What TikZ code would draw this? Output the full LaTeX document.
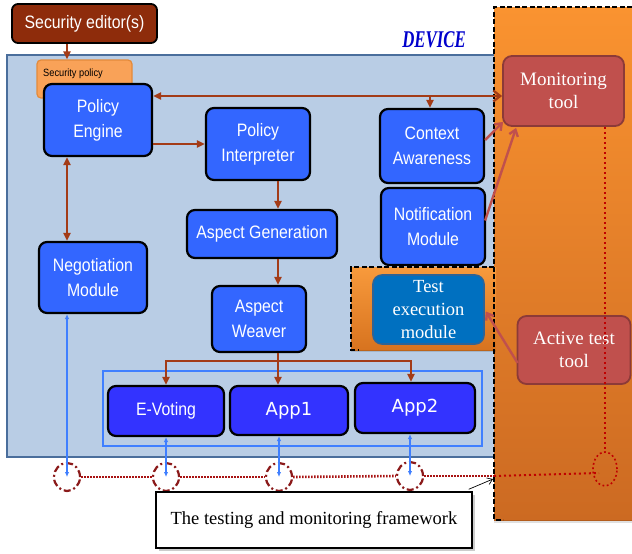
\documentclass[tikz,border=0pt]{standalone}
\usepackage{fontspec}
\usepackage{graphicx}
\setmainfont{Liberation Serif}
\newfontfamily\nsans[FakeStretch=0.88]{Liberation Sans}
\newfontfamily\vsans{DejaVu Sans}
\usetikzlibrary{arrows.meta,calc,shapes.geometric}
\definecolor{devfill}{HTML}{B9CDE5}
\definecolor{devline}{HTML}{4A6E9C}
\definecolor{boxblue}{HTML}{3366FF}
\definecolor{appblue}{HTML}{3333FF}
\definecolor{brownarr}{HTML}{A33B17}
\definecolor{edfill}{HTML}{8E2C0B}
\definecolor{polfill}{HTML}{F9A258}
\definecolor{polline}{HTML}{E48A3A}
\definecolor{orTop}{HTML}{FA9330}
\definecolor{orBot}{HTML}{CC6A22}
\definecolor{taTop}{HTML}{F89A3C}
\definecolor{taBot}{HTML}{D7731F}
\definecolor{texfill}{HTML}{0070C0}
\definecolor{texline}{HTML}{2E6496}
\definecolor{toolfill}{HTML}{C0504D}
\definecolor{toolline}{HTML}{8C3A38}
\definecolor{bluearr}{HTML}{3F7FFF}
\definecolor{ellred}{HTML}{8B1A1A}
\definecolor{dotred}{HTML}{A81212}
\definecolor{dotred2}{HTML}{C00000}
\definecolor{devtext}{HTML}{0000CC}
\begin{document}
\begin{tikzpicture}[x=1pt,y=-1pt,
  mod/.style={draw=black,line width=2.2pt,fill=boxblue,rounded corners=8pt,text=white,
    align=center,font=\nsans\fontsize{18}{25}\selectfont,inner sep=0pt},
  appmod/.style={mod,fill=appblue},
  tool/.style={draw=toolline,line width=1.8pt,fill=toolfill,rounded corners=9pt,text=white,
    align=center,font=\fontsize{19}{23}\selectfont,inner sep=0pt},
  brarr/.style={draw=brownarr,line width=2.2pt,-{Triangle[length=8pt,width=7pt]}},
  rdarr/.style={draw=toolfill,line width=2.4pt,-{Straight Barb[length=6pt,width=9pt]}},
  blarr/.style={draw=bluearr,line width=1.3pt,{Latex[length=5pt,width=4.5pt]}-{Latex[length=5pt,width=4.5pt]}},
  ell/.style={ellipse,draw=ellred,line width=2.2pt,dash pattern=on 7pt off 3pt on 2pt off 3pt,
    minimum width=26pt,minimum height=28pt,inner sep=0pt},
  dotw/.style={draw=dotred,line width=2.6pt,dash pattern=on 1.6pt off 1.4pt},
  doto/.style={draw=dotred2,line width=2pt,dash pattern=on 2pt off 3pt},
  frame/.style={draw=black,line width=1.6pt,dash pattern=on 5pt off 2.5pt}
]
\useasboundingbox (0,0) rectangle (632,554);
% device area
\fill[devfill] (7,55) rectangle (497,457);
\draw[devline,line width=1.6pt] (497,55) -- (7,55) -- (7,457) -- (497,457);
\node (devlbl) at (434,40) {\scalebox{0.7}[1]{\fontsize{24}{24}\selectfont\bfseries\itshape\color{devtext}DEVICE}};
% security editor and policy
\node (seced) [draw=black,line width=1.8pt,fill=edfill,rounded corners=6pt,minimum width=145pt,minimum height=39pt,
  text=white,font=\nsans\fontsize{18}{20}\selectfont,inner sep=0pt] at (84.5,23.5) {Security editor(s)};
\node (secpol) [draw=polline,line width=1.2pt,fill=polfill,rounded corners=4pt,minimum width=95pt,minimum height=38pt,inner sep=0pt] at (84.5,79) {};
\node (secpoltxt) [anchor=west,inner sep=0pt,font=\nsans\fontsize{10.5}{12}\selectfont] at (43,74) {Security policy};
% modules
\node (pe) [mod,minimum width=108pt,minimum height=72pt] at (98,120) {Policy\\Engine};
\node (pi) [mod,minimum width=104pt,minimum height=72pt] at (258,144) {Policy\\Interpreter};
\node (ag) [mod,minimum width=150pt,minimum height=48pt] at (262,234) {Aspect Generation};
\node (aw) [mod,minimum width=94pt,minimum height=66pt] at (259,319) {Aspect\\Weaver};
\node (neg) [mod,minimum width=108pt,minimum height=71pt] at (93,277.5) {Negotiation\\Module};
\node (ctx) [mod,minimum width=104pt,minimum height=74pt] at (432,146) {Context\\Awareness};
\node (notif) [mod,minimum width=104pt,minimum height=77pt] at (433,226.5) {Notification\\Module};
% apps
\draw[bluearr,line width=1.8pt] (103,371) rectangle (482,446);
\node (ev) [appmod,minimum width=116pt,minimum height=50pt] at (166,411) {E-Voting};
\node (app1) [appmod,minimum width=118pt,minimum height=49pt,font=\vsans\fontsize{18}{20}\selectfont] at (289,410.5) {App1};
\node (app2) [appmod,minimum width=120pt,minimum height=50pt,font=\vsans\fontsize{18}{20}\selectfont] at (415,408) {App2};
% framework panel
\shade[top color=orTop,bottom color=orBot] (494,7) rectangle (632,520);
\fill[black,opacity=0.12] (494,520) rectangle (632,523);
\shade[top color=taTop,bottom color=taBot] (351,267) rectangle (496,350);
\fill[black,opacity=0.12] (351,350) rectangle (496,352);
\draw[frame] (632,7) -- (494,7) -- (494,520) -- (503,520);
\draw[frame] (494,267) -- (351,267) -- (351,350) -- (358,350);
\node (tex) [draw=texline,line width=1.6pt,fill=texfill,rounded corners=9pt,minimum width=111pt,minimum height=69pt,
  text=white,align=center,font=\fontsize{18.5}{23}\selectfont,inner sep=0pt] at (428.5,309.5) {Test\\execution\\module};
\node (mon) [tool,minimum width=121pt,minimum height=70pt] at (563.5,91) {Monitoring\\tool};
\node (act) [tool,minimum width=113pt,minimum height=68pt] at (574,350) {Active test\\tool};
% coordinates for columns and rows
\coordinate (colA) at (67,0);
\coordinate (colB) at (278,0);
\coordinate (rowT) at (0,96);
\coordinate (rowBr) at (0,361);
\coordinate (frx) at (494,0);
% brown arrows
\draw[brarr] (seced.south -| colA) -- (secpol.north -| colA);
\draw[draw=brownarr,line width=2.2pt,{Triangle[length=8pt,width=7pt]}-{Straight Barb[length=7pt,width=11pt]}] (pe.east |- rowT) -- (mon.west |- rowT);
\draw[brarr] ($(ctx.north |- rowT)+(-2,0)$) -- ($(ctx.north)+(-2,0)$);
\draw[brarr] (pe.east |- pi.west) -- (pi.west);
\draw[draw=brownarr,line width=2.2pt,{Triangle[length=8pt,width=7pt]}-{Triangle[length=8pt,width=7pt]}] (pe.south -| colA) -- (neg.north -| colA);
\draw[brarr] (pi.south -| colB) -- (ag.north -| colB);
\draw[brarr] (ag.south -| colB) -- (aw.north -| colB);
\draw[brarr] (aw.south -| colB) -- (app1.north -| colB);
\draw[brarr] (colB |- rowBr) -| (ev.north);
\draw[brarr] (colB |- rowBr) -| ($(app2.north)+(-4,0)$);
% red arrows
\draw[rdarr] ($(ctx.east)+(0,-6)$) -- ($(mon.south west)+(1,-5)$);
\draw[rdarr] ($(notif.east)+(-1,-6)$) -- ($(mon.south west)+(14,1)$);
\draw[rdarr] ($(act.west)+(1,13)$) -- ($(tex.east)+(1,2)$);
% ellipses and blue arrows
\node (e1) [ell] at (67,477) {};
\node (e2) [ell] at (166,477) {};
\node (e3) [ell] at (279,477) {};
\node (e4) [ell] at (410,476) {};
\node (eR) [ellipse,draw=dotred2,line width=1.6pt,dash pattern=on 1.8pt off 2.6pt,minimum width=24pt,minimum height=34pt,inner sep=0pt] at (605,469) {};
\draw[blarr] (neg.south -| colA) -- (e1.center);
\draw[blarr] (ev.south -| e2) -- (e2.center);
\draw[blarr] (app1.south -| e3) -- (e3.center);
\draw[blarr] (app2.south -| e4) -- (e4.center);
% dotted links
\draw[dotw] (e1.east) -- (e2.west);
\draw[dotw] (e2.east) -- (e3.west);
\draw[dotw] (e3.east) -- (e4.west);
\draw[dotw] (e4.east) -- (frx |- e4.east);
\draw[doto] (frx |- e4.east) -- ($(eR.center)+(-6,4)$);
\draw[doto] (mon.south -| eR) -- (eR.north);
% framework label
\fill[black,opacity=0.2] (159,495) rectangle (475,551);
\node (tbox) [draw=black,line width=1.4pt,fill=white,minimum width=316pt,minimum height=56pt,
  font=\fontsize{18.5}{22}\selectfont,inner sep=0pt] at (314,520) {The testing and monitoring framework};
\draw[black,line width=0.7pt,-{Straight Barb[length=5pt,width=7pt]}] ($(tbox.north east)+(-4,-2)$) -- (493,479);
\end{tikzpicture}
\end{document}
